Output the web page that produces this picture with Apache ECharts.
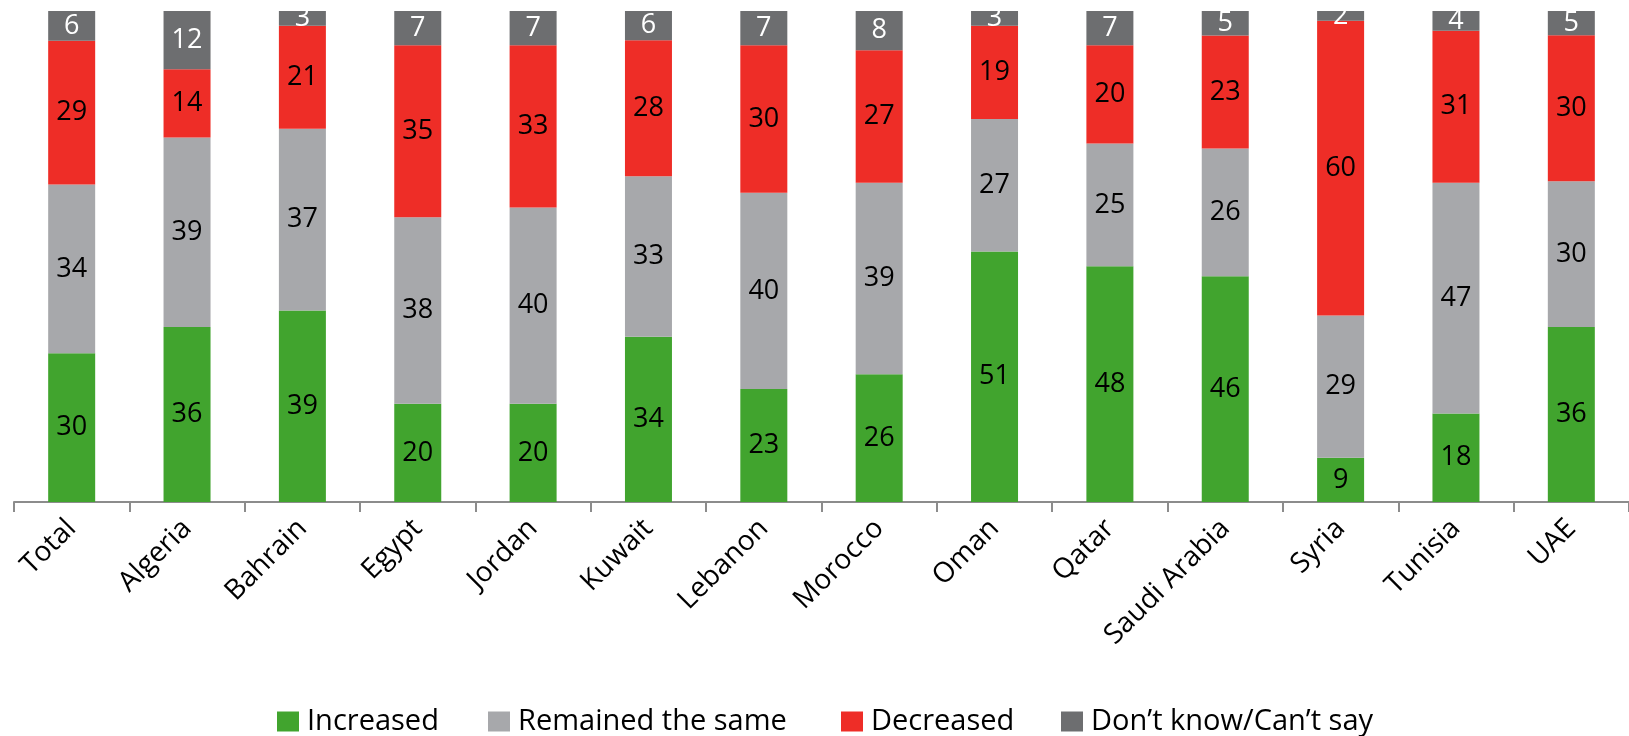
<!DOCTYPE html>
<html>
<head>
<meta charset="utf-8">
<title>Perceived change by country</title>
<script src="https://cdn.jsdelivr.net/npm/echarts@6/dist/echarts.min.js"></script>
<style>
  html, body { margin: 0; padding: 0; background: #ffffff; }
  #chart { width: 1629px; height: 736px; }
</style>
</head>
<body>
<div id="chart"></div>
<script>
// Survey responses by country (percent of respondents)
const categories = ['Total', 'Algeria', 'Bahrain', 'Egypt', 'Jordan', 'Kuwait', 'Lebanon',
  'Morocco', 'Oman', 'Qatar', 'Saudi Arabia', 'Syria', 'Tunisia', 'UAE'];
const increased = [30, 36, 39, 20, 20, 34, 23, 26, 51, 48, 46, 9, 18, 36];
const remainedSame = [34, 39, 37, 38, 40, 33, 40, 39, 27, 25, 26, 29, 47, 30];
const decreased = [29, 14, 21, 35, 33, 28, 30, 27, 19, 20, 23, 60, 31, 30];
const dontKnow = [6, 12, 3, 7, 7, 6, 7, 8, 3, 7, 5, 2, 4, 5];

const seriesNames = ['Increased', 'Remained the same', 'Decreased', 'Don\u2019t know/Can\u2019t say'];
const seriesColors = ['#41a42e', '#a7a8ab', '#ee2d27', '#6d6e70'];
const seriesLabelColors = ['#000000', '#000000', '#000000', '#ffffff'];
const seriesValues = [increased, remainedSame, decreased, dontKnow];

// 100% stacked columns: each segment is its share of the column total
const totals = categories.map((_, i) => seriesValues.reduce((s, arr) => s + arr[i], 0));

const FONT = '"Open Sans", "DejaVu Sans", sans-serif';

const series = seriesNames.map((name, k) => ({
  name: name,
  type: 'bar',
  stack: 'share',
  barWidth: 47,
  itemStyle: { color: seriesColors[k] },
  label: {
    show: true,
    position: 'inside',
    color: seriesLabelColors[k],
    fontFamily: FONT,
    fontSize: 27,
    formatter: p => String(p.data.raw)
  },
  data: seriesValues[k].map((v, i) => ({ value: v / totals[i] * 100, raw: v }))
}));

// One legend per entry so each item sits at its own position
const legendLefts = [277, 488, 841, 1061];
const legends = seriesNames.map((name, k) => ({
  data: [name],
  left: legendLefts[k],
  top: 707,
  itemWidth: 22,
  itemHeight: 20,
  itemGap: 0,
  padding: 0,
  icon: 'rect',
  textStyle: { fontFamily: FONT, fontSize: 29, color: '#000000', padding: [0, 0, 0, 3] }
}));

const chart = echarts.init(document.getElementById('chart'), null, { renderer: 'canvas' });
chart.setOption({
  animation: false,
  backgroundColor: '#ffffff',
  grid: { left: 14, top: 11, width: 1619, height: 491, containLabel: false },
  legend: legends,
  xAxis: {
    type: 'category',
    data: categories,
    axisLine: { show: true, lineStyle: { color: '#8c8c8c', width: 2 } },
    axisTick: { show: true, length: 10, alignWithLabel: false, lineStyle: { color: '#8c8c8c', width: 2 } },
    axisLabel: {
      interval: 0,
      rotate: 45,
      margin: 22,
      color: '#000000',
      fontFamily: FONT,
      fontSize: 28
    }
  },
  yAxis: {
    type: 'value',
    min: 0,
    max: 100,
    show: false
  },
  series: series
});
</script>
</body>
</html>
